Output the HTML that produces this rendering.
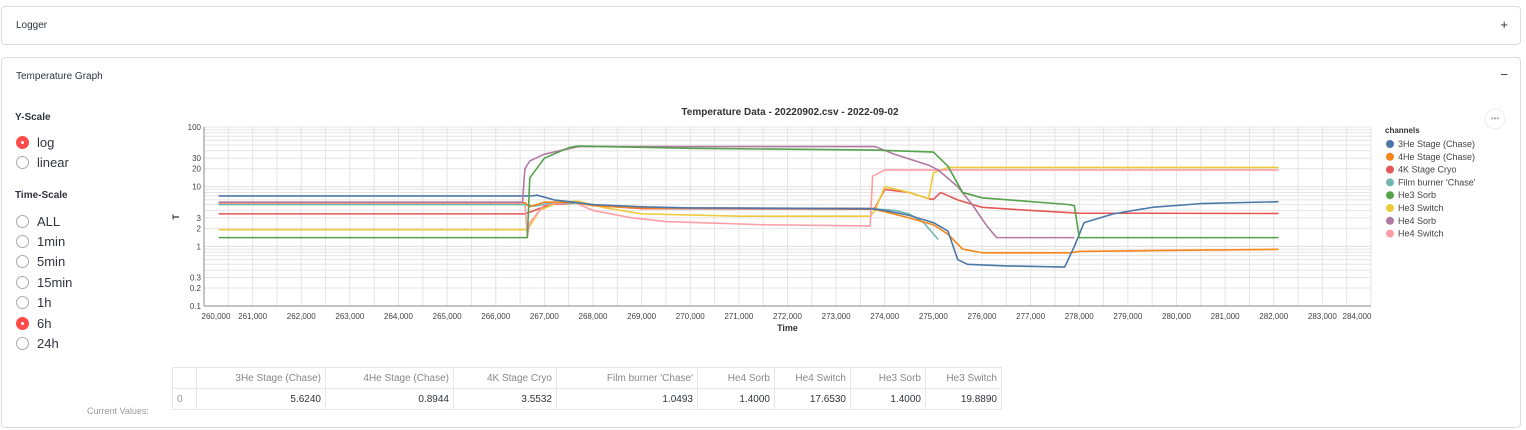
<!DOCTYPE html>
<html><head><meta charset="utf-8"><style>
body{margin:0;width:1526px;height:430px;background:#fff;font-family:"Liberation Sans",sans-serif;color:#31333f;position:relative;overflow:hidden}
.panel{position:absolute;left:1px;width:1518px;border:1px solid #dcdcdc;border-radius:4px;background:#fff}
.ptitle{position:absolute;left:14px;font-size:10px}
.pm{position:absolute;right:12px;font-size:13px}
.lbl{position:absolute;font-size:10px;font-weight:bold}
.radio{position:absolute;left:16px;font-size:13px;height:18px;line-height:18px}
.radio i{display:inline-block;width:13px;height:13px;border:1.5px solid #aaa;border-radius:50%;vertical-align:middle;margin-right:8px;box-sizing:border-box;position:relative;top:-1px}
.radio i.on{background:#ff4b4b;border-color:#ff4b4b}
.radio i.on:after{content:"";position:absolute;left:3.5px;top:3.5px;width:3px;height:3px;background:#fff;border-radius:50%}
table{position:absolute;left:172px;top:367px;border-collapse:collapse;font-size:10px;color:#31333f}
td{border:1px solid #e6e6e6;height:21px;padding:0 4px;text-align:right;box-sizing:border-box}
tr:first-child td{color:#888}
</style></head><body>
<div class="panel" style="top:6px;height:37px">
 <span class="ptitle" style="top:13px">Logger</span>
 <span class="pm" style="top:10px">+</span>
</div>
<div class="panel" style="top:57px;height:369px">
 <span class="ptitle" style="top:13px">Temperature Graph</span>
 <span class="pm" style="top:9px">−</span>
</div>
<div class="lbl" style="left:15px;top:112px">Y-Scale</div>
<div class="radio" style="top:134px"><i class="on"></i>log</div>
<div class="radio" style="top:154px"><i></i>linear</div>
<div class="lbl" style="left:15px;top:190px">Time-Scale</div>
<div class="radio" style="top:213px"><i></i>ALL</div>
<div class="radio" style="top:233px"><i></i>1min</div>
<div class="radio" style="top:253px"><i></i>5min</div>
<div class="radio" style="top:274px"><i></i>15min</div>
<div class="radio" style="top:294px"><i></i>1h</div>
<div class="radio" style="top:315px"><i class="on"></i>6h</div>
<div class="radio" style="top:335px"><i></i>24h</div>
<div style="position:absolute;left:87px;top:406px;font-size:9px;color:#999">Current Values:</div>
<table>
<tr><td style="width:24px"></td><td style="width:129px">3He Stage (Chase)</td><td style="width:128px">4He Stage (Chase)</td><td style="width:103px">4K Stage Cryo</td><td style="width:141px">Film burner 'Chase'</td><td style="width:77px">He4 Sorb</td><td style="width:76px">He4 Switch</td><td style="width:75px">He3 Sorb</td><td style="width:76px">He3 Switch</td></tr>
<tr><td style="text-align:left;color:#999">0</td><td>5.6240</td><td>0.8944</td><td>3.5532</td><td>1.0493</td><td>1.4000</td><td>17.6530</td><td>1.4000</td><td>19.8890</td></tr>
</table>
<svg id="chart" width="1526" height="430" style="position:absolute;left:0;top:0"></svg>
<script>
const names=["3He Stage (Chase)","4He Stage (Chase)","4K Stage Cryo","Film burner 'Chase'","He3 Sorb","He3 Switch","He4 Sorb","He4 Switch"];
const colors=["#4c78a8","#f58518","#e45756","#72b7b2","#54a24b","#eeca3b","#b279a2","#ff9da6"];
const xTicks=[260000,261000,262000,263000,264000,265000,266000,267000,268000,269000,270000,271000,272000,273000,274000,275000,276000,277000,278000,279000,280000,281000,282000,283000,284000];
const yTicks=[0.1,0.2,0.3,1,2,3,10,20,30,100];
const s3He=[[260300,7],[266750,7],[266850,7.2],[267200,6],[267600,5.5],[268000,5],[269000,4.6],[270000,4.4],[273700,4.3],[274000,4],[274500,3.3],[275000,2.5],[275300,1.8],[275500,0.6],[275700,0.5],[276500,0.47],[277700,0.45],[277900,1],[278100,2.5],[278700,3.5],[279500,4.5],[280500,5.2],[282100,5.6]];
const s4He=[[260300,5.4],[266600,5.4],[266700,4.6],[267000,5.5],[267600,5.5],[268000,4.8],[269000,4.4],[273700,4.3],[274000,3.8],[274500,3],[275000,2.3],[275300,1.6],[275600,0.9],[276000,0.78],[277800,0.78],[278000,0.82],[279500,0.85],[282100,0.89]];
const s4K=[[260300,3.5],[266600,3.5],[266800,4],[267100,5],[267700,5.3],[268100,4.8],[269000,4.3],[273700,4.2],[273800,4.4],[274000,9],[274500,8],[274900,6.3],[275000,6.1],[275150,8],[275500,6],[276000,4.5],[277000,4],[278000,3.6],[282100,3.55]];
const sFilm=[[260300,5],[266600,5],[266800,4.7],[267200,5.5],[267800,5.2],[268500,4.6],[269500,4.4],[273700,4.3],[274200,4],[274500,3.5],[274800,2.5],[275100,1.3]];
const sHe3Sorb=[[260300,1.4],[266650,1.4],[266700,14],[267000,30],[267500,45],[267700,48],[270000,44],[273800,41],[275000,38],[275300,22],[275600,8],[276000,6.5],[277800,5],[277900,4.8],[278000,1.4],[282100,1.4]];
const sHe3Sw=[[260300,1.9],[266600,1.9],[266700,2.2],[266900,4],[267300,5.5],[267700,5.7],[268200,4.5],[269000,3.5],[271000,3.2],[273700,3.2],[273800,4],[274000,10],[274500,8],[274900,6.3],[275000,17],[275300,21],[282100,21]];
const sHe4Sorb=[[260300,5.5],[266550,5.5],[266600,20],[266700,27],[267000,35],[267700,47],[273800,47],[274200,35],[274900,23],[275100,19],[275500,10],[275800,5],[276100,2.2],[276300,1.4],[277900,1.4]];
const sHe4Sw=[[260300,5.1],[266600,5.1],[266650,1.5],[266700,2.5],[267000,5],[267600,5.5],[268000,4],[268800,3],[269500,2.6],[271500,2.3],[273700,2.2],[273750,15],[274000,19],[282100,19]];
const series=[s3He,s4He,s4K,sFilm,sHe3Sorb,sHe3Sw,sHe4Sorb,sHe4Sw];
const drawOrder=[2,5,7,3,1,0,6,4];
const X0=204,X1=1371,Y0=306,Y1=127;
const xS=v=>X0+(v-260000)/(284000-260000)*(X1-X0);
const yS=v=>Y0-(Math.log10(v)+1)/3*(Y0-Y1);
const svg=document.getElementById('chart');const NS="http://www.w3.org/2000/svg";
function mk(t,a){const e=document.createElementNS(NS,t);for(const k in a)e.setAttribute(k,a[k]);svg.appendChild(e);return e;}
for(let v=260000;v<=284000;v+=500){const g=mk('line',{x1:xS(v),x2:xS(v),y1:Y1,y2:Y0,stroke:'#e4e4e4'});

}
for(let d=-1;d<2;d++)for(let m=1;m<=10;m++){const v=m*Math.pow(10,d);const g=mk('line',{x1:X0,x2:X1,y1:yS(v),y2:yS(v),stroke:'#e4e4e4'});

}
mk('line',{x1:X0,x2:X1,y1:Y0,y2:Y0,stroke:'#888'});mk('line',{x1:X0,x2:X0,y1:Y1,y2:Y0,stroke:'#888'});
xTicks.forEach((v,i)=>{let x=xS(v);if(i==0)x+=12;if(i==xTicks.length-1)x-=14;
const t=mk('text',{x:x,y:319,'font-size':8,'text-anchor':'middle',fill:'#444'});t.textContent=v.toLocaleString('en-US');

});
yTicks.forEach(v=>{const t=mk('text',{x:X0-3,y:yS(v)+3,'font-size':8,'text-anchor':'end',fill:'#444'});t.textContent=v;

});
const xt=mk('text',{x:(X0+X1)/2,y:331,'font-size':9,'font-weight':'bold','text-anchor':'middle',fill:'#333'});xt.textContent='Time';


const yt=mk('text',{x:0,y:0,'font-size':9,'font-weight':'bold','text-anchor':'middle',fill:'#333',transform:'translate(179,217) rotate(-90)'});yt.textContent='T';


const tt=mk('text',{x:790,y:115,'font-size':10,'font-weight':'bold','text-anchor':'middle',fill:'#333'});tt.textContent='Temperature Data - 20220902.csv - 2022-09-02';


drawOrder.forEach(i=>{const p=mk('polyline',{points:series[i].map(d=>xS(d[0])+','+yS(d[1])).join(' '),fill:'none',stroke:colors[i],'stroke-width':1.6,'stroke-linejoin':'round'});

});
const lt=mk('text',{x:1385,y:133,'font-size':8,'font-weight':'bold',fill:'#333'});lt.textContent='channels';


names.forEach((n,i)=>{const y=147+i*12.8;const c=mk('circle',{cx:1390,cy:y-3,r:4,fill:colors[i]});


const t=mk('text',{x:1398,y:y,'font-size':9,fill:'#444'});t.textContent=n;

});
const mb=mk('circle',{cx:1495,cy:119,r:10,fill:'#fff',stroke:'#eee'});


const md=mk('text',{x:1495,y:121,'font-size':8,'text-anchor':'middle',fill:'#aaa'});md.textContent='•••';


</script>
</body></html>
